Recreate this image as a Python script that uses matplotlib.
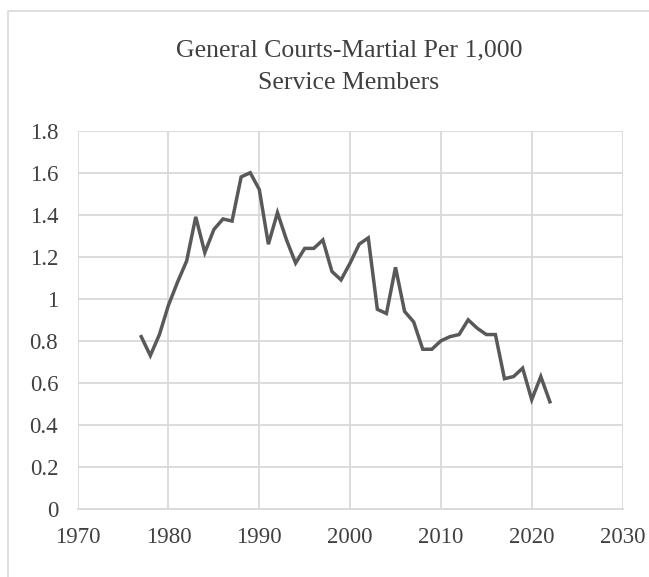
import matplotlib.pyplot as plt
from matplotlib.patches import Rectangle
from matplotlib.ticker import FuncFormatter

years = list(range(1977, 2023))
rate = [0.82, 0.73, 0.83, 0.97, 1.08, 1.18, 1.39, 1.22, 1.33, 1.38,
        1.37, 1.58, 1.60, 1.52, 1.26, 1.41, 1.28, 1.17, 1.24, 1.24,
        1.28, 1.13, 1.09, 1.17, 1.26, 1.29, 0.95, 0.93, 1.15, 0.94,
        0.89, 0.76, 0.76, 0.80, 0.82, 0.83, 0.90, 0.86, 0.83, 0.83,
        0.62, 0.63, 0.67, 0.52, 0.63, 0.51]
x_ticks = [1970, 1980, 1990, 2000, 2010, 2020, 2030]
y_ticks = [0, 0.2, 0.4, 0.6, 0.8, 1.0, 1.2, 1.4, 1.6, 1.8]
title_lines = ['General Courts-Martial Per 1,000', 'Service Members']

plt.rcParams['font.family'] = ['Liberation Serif', 'DejaVu Serif']

fig = plt.figure(figsize=(6.49, 5.77), dpi=100)
ax = fig.add_axes([0.1197, 0.1179, 0.8395, 0.6556])

# chart frame like Excel's chart area border
fig.patches.append(Rectangle((8 / 649, -0.1), 1.2, 1 - 11 / 577 + 0.1,
                             transform=fig.transFigure, fill=False,
                             edgecolor='#d9d9d9', linewidth=1.2))

ax.plot(years, rate, color='#595959', linewidth=2.5, solid_joinstyle='miter')

ax.set_xlim(1970, 2030)
ax.set_ylim(0, 1.8)
ax.set_xticks(x_ticks)
ax.set_yticks(y_ticks)
ax.yaxis.set_major_formatter(FuncFormatter(lambda v, p: '{:g}'.format(round(v, 1))))
ax.grid(True, color='#d9d9d9', linewidth=1.3)
ax.set_axisbelow(True)
for s in ['top', 'right', 'left']:
    ax.spines[s].set_visible(False)
ax.spines['bottom'].set_color('#d9d9d9')
ax.spines['bottom'].set_linewidth(1.3)
ax.tick_params(length=0, labelsize=16.5, colors='#404040')
ax.tick_params(axis='x', pad=13)
ax.tick_params(axis='y', pad=14)

fig.text(349 / 649, 1 - 56.7 / 577, title_lines[0], ha='center', va='baseline',
         fontsize=18.5, color='#404040')
fig.text(349 / 649, 1 - 89 / 577, title_lines[1], ha='center', va='baseline',
         fontsize=18.5, color='#404040')

fig.savefig('out.png', dpi=100)
